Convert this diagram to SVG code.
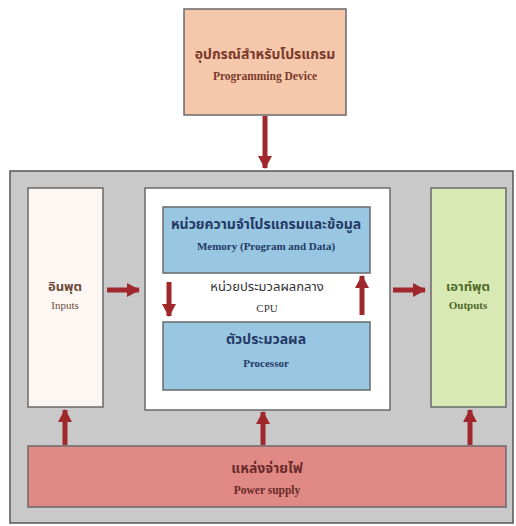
<svg xmlns="http://www.w3.org/2000/svg" width="516" height="526" viewBox="0 0 516 526">
<defs>
<marker id="ah" markerUnits="userSpaceOnUse" markerWidth="14" markerHeight="14" refX="12" refY="7" orient="auto">
<path d="M0,0 L13,7 L0,14 Z" fill="#a0282c"/>
</marker>
<style>
.box{stroke:#6a6a6a;stroke-width:1.5}
.th{font-family:"Liberation Serif","Noto Sans Thai","Noto Sans",serif;font-weight:bold;text-anchor:middle}
.thn{font-family:"Liberation Serif","Noto Sans Thai","Noto Sans",serif;font-weight:normal;text-anchor:middle}
.en{font-family:"Liberation Serif",serif;text-anchor:middle}
.arr{stroke:#a0282c;stroke-width:5;fill:none;marker-end:url(#ah)}
</style>
</defs>
<rect width="516" height="526" fill="#ffffff"/>
<g id="outer"><rect x="10" y="171" width="503" height="352" fill="#c9c9c9" stroke="#555" stroke-width="1.5"/></g>
<g id="programming-device">
<rect class="box" x="184" y="9" width="162" height="106" fill="#f6c8ab"/>
<text class="th" x="265" y="59" font-size="14" fill="#7a3a2c">อุปกรณ์สำหรับโปรแกรม</text>
<text class="en" x="265" y="80" font-size="11.5" font-weight="bold" fill="#7a3a2c">Programming Device</text>
</g>
<g id="inputs">
<rect class="box" x="28" y="188" width="75" height="219" fill="#fcf7f2"/>
<text class="th" x="65" y="291" font-size="13" fill="#6e4a3a">อินพุต</text>
<text class="en" x="65" y="309" font-size="11" fill="#6e4a3a">Inputs</text>
</g>
<g id="cpu">
<rect class="box" x="145" y="188" width="245" height="222" fill="#ffffff"/>
<text class="thn" x="267" y="291" font-size="13" fill="#333">หน่วยประมวลผลกลาง</text>
<text class="en" x="267" y="312" font-size="11" fill="#333">CPU</text>
</g>
<g id="memory">
<rect class="box" x="163" y="207" width="207" height="66" fill="#99c6e0"/>
<text class="th" x="266" y="229" font-size="14" fill="#243a66">หน่วยความจำโปรแกรมและข้อมูล</text>
<text class="en" x="266" y="250" font-size="11" font-weight="bold" fill="#243a66">Memory (Program and Data)</text>
</g>
<g id="processor">
<rect class="box" x="163" y="322" width="207" height="68" fill="#99c6e0"/>
<text class="th" x="266" y="344" font-size="14" fill="#243a66">ตัวประมวลผล</text>
<text class="en" x="266" y="367" font-size="11" font-weight="bold" fill="#243a66">Processor</text>
</g>
<g id="outputs">
<rect class="box" x="431" y="188" width="75" height="219" fill="#d9e9b3"/>
<text class="th" x="468" y="291" font-size="13" fill="#4f6a2a">เอาท์พุต</text>
<text class="en" x="468" y="309" font-size="11" font-weight="bold" fill="#4f6a2a">Outputs</text>
</g>
<g id="power-supply">
<rect class="box" x="28" y="446" width="478" height="61" fill="#e08985"/>
<text class="th" x="267" y="473" font-size="14" fill="#6a2a2a">แหล่งจ่ายไฟ</text>
<text class="en" x="267" y="494" font-size="11.5" font-weight="bold" fill="#6a2a2a">Power supply</text>
</g>
<g id="connectors">
<line class="arr" x1="265" y1="116" x2="265" y2="168"/>
<line class="arr" x1="107" y1="290" x2="139" y2="290"/>
<line class="arr" x1="393" y1="290" x2="425" y2="290"/>
<line class="arr" x1="169" y1="282" x2="169" y2="316"/>
<line class="arr" x1="362" y1="315" x2="362" y2="276"/>
<line class="arr" x1="65" y1="445" x2="65" y2="410"/>
<line class="arr" x1="263" y1="445" x2="263" y2="412"/>
<line class="arr" x1="470" y1="445" x2="470" y2="410"/>
</g>
</svg>
